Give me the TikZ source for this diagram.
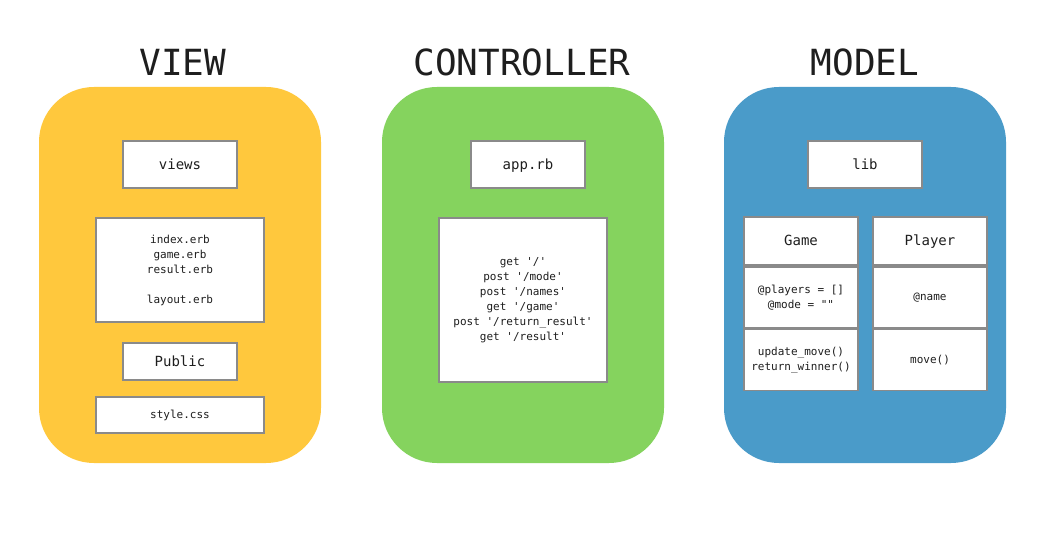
\documentclass[tikz,border=0pt]{standalone}
\usepackage{fontspec}
\setmonofont{DejaVu Sans Mono}
\definecolor{vyellow}{HTML}{FFC83D}
\definecolor{cgreen}{HTML}{85D35E}
\definecolor{mblue}{HTML}{4A9BC9}
\definecolor{boxgray}{HTML}{8A8A8A}
\definecolor{txt}{HTML}{1E1E1E}
\begin{document}
\begin{tikzpicture}[x=1pt,y=-1pt,
  panel/.style={rounded corners=55pt, draw=none},
  title/.style={font=\ttfamily\fontsize{36}{40}\selectfont, text=txt, inner sep=0},
  box/.style={draw=boxgray, line width=1.5pt, fill=white, inner sep=0, text=txt, align=center},
  big/.style={font=\ttfamily\fontsize{14}{17}\selectfont, text height=11pt, text depth=1pt},
  small/.style={font=\ttfamily\fontsize{11}{15}\selectfont},
  tiny/.style={draw=boxgray, line width=1pt}]
\useasboundingbox (0,0) rectangle (1052,553);
\fill[white] (0,0) rectangle (1052,553);
% panels
\fill[panel, vyellow] (39,87) rectangle (321,463);
\fill[panel, cgreen] (382,87) rectangle (664,463);
\fill[panel, mblue] (724,87) rectangle (1006,463);
% titles
\node[title] (tview) at (183,62) {VIEW};
\node[title] (tctrl) at (522,62) {CONTROLLER};
\node[title] (tmodel) at (865,62) {MODEL};
% view
\node[box, big, minimum width=114pt, minimum height=47pt] (views) at (180,164.5) {views};
\node[box, small, minimum width=168pt, minimum height=104pt] (erb) at (180,270) {index.erb\\game.erb\\result.erb\\[15pt]layout.erb};
\node[box, big, minimum width=114pt, minimum height=37pt] (public) at (180,361.5) {Public};
\node[box, small, minimum width=168pt, minimum height=36pt] (css) at (180,415) {style.css};
% controller
\node[box, big, minimum width=114pt, minimum height=47pt] (app) at (528,164.5) {app.rb};
\node[box, small, minimum width=168pt, minimum height=164pt] (routes) at (523,300) {get '/'\\post '/mode'\\post '/names'\\get '/game'\\post '/return\_result'\\get '/result'};
% model
\node[box, big, minimum width=114pt, minimum height=47pt] (lib) at (865,164.5) {lib};
\node[box, big, minimum width=114pt, minimum height=48pt] (game) at (801,241) {Game};
\node[box, small, minimum width=114pt, minimum height=61pt] (gattr) at (801,297.5) {@players = []\\@mode = ""};
\node[box, small, minimum width=114pt, minimum height=61pt] (gmeth) at (801,360) {update\_move()\\return\_winner()};
\node[box, big, minimum width=114pt, minimum height=48pt] (player) at (930,241) {Player};
\node[box, small, minimum width=114pt, minimum height=61pt] (pattr) at (930,297.5) {@name};
\node[box, small, minimum width=114pt, minimum height=61pt] (pmeth) at (930,360) {move()};
\draw[tiny] (game.south) -- (gattr.north);
\draw[tiny] (gattr.south) -- (gmeth.north);
\draw[tiny] (player.south) -- (pattr.north);
\draw[tiny] (pattr.south) -- (pmeth.north);
\end{tikzpicture}
\end{document}
